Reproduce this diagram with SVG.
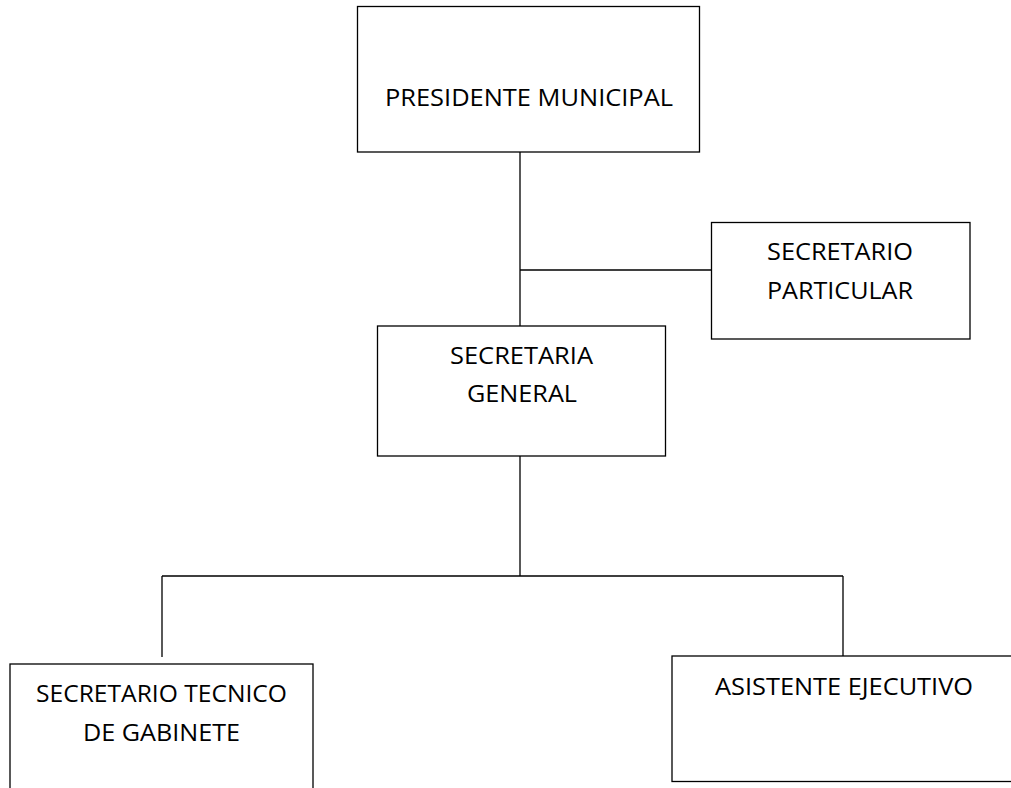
<svg xmlns="http://www.w3.org/2000/svg" width="1011" height="788" viewBox="0 0 1011 788">
<style>
.box{fill:#fff;stroke:#000;stroke-width:1.3}
.ln{fill:none;stroke:#000;stroke-width:1.3}
text{font-family:"Open Sans","Liberation Sans",sans-serif;font-size:24px;fill:#000;text-anchor:middle}
</style>
<rect width="1011" height="788" fill="#fff"/>
<g id="connectors">
<path class="ln" d="M520 152V326M520 270H712M520 456V576M162 576H843M162 576V657M843 576V656"/>
</g>
<g id="presidente">
<rect class="box" x="357.5" y="6.5" width="342" height="145.5"/>
<text x="529" y="106" textLength="288" lengthAdjust="spacingAndGlyphs">PRESIDENTE MUNICIPAL</text>
</g>
<g id="secretario-particular">
<rect class="box" x="711.5" y="222.5" width="258.5" height="116.5"/>
<text x="840" y="260" textLength="146" lengthAdjust="spacingAndGlyphs">SECRETARIO</text>
<text x="840" y="299" textLength="146" lengthAdjust="spacingAndGlyphs">PARTICULAR</text>
</g>
<g id="secretaria-general">
<rect class="box" x="377.5" y="326" width="288" height="130"/>
<text x="521.5" y="364" textLength="143" lengthAdjust="spacingAndGlyphs">SECRETARIA</text>
<text x="522" y="402" textLength="110" lengthAdjust="spacingAndGlyphs">GENERAL</text>
</g>
<g id="secretario-tecnico">
<rect class="box" x="10" y="664" width="303" height="140"/>
<text x="161.5" y="702" textLength="251" lengthAdjust="spacingAndGlyphs">SECRETARIO TECNICO</text>
<text x="161.5" y="741" textLength="157" lengthAdjust="spacingAndGlyphs">DE GABINETE</text>
</g>
<g id="asistente-ejecutivo">
<rect class="box" x="672" y="656" width="345" height="125.5"/>
<text x="844" y="695" textLength="258" lengthAdjust="spacingAndGlyphs">ASISTENTE EJECUTIVO</text>
</g>
</svg>
